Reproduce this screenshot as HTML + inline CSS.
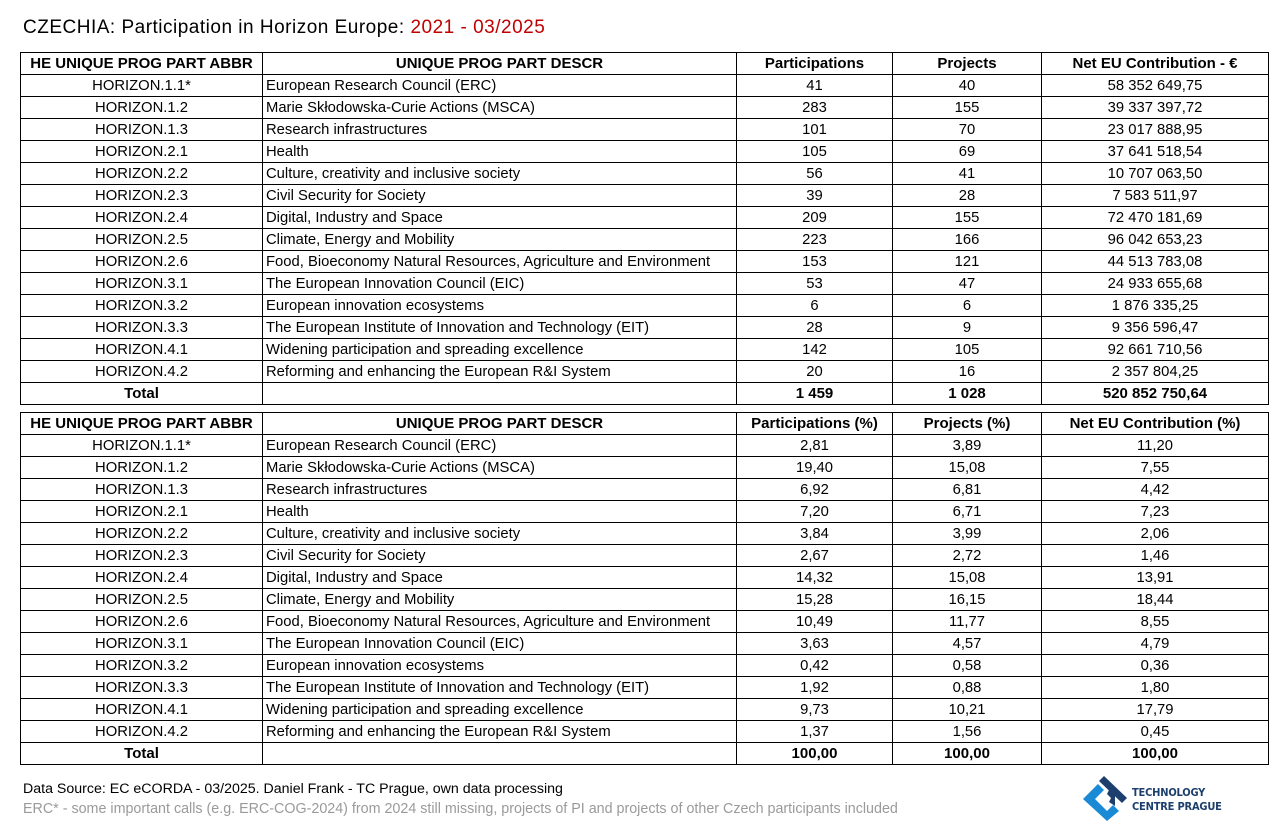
<!DOCTYPE html>
<html><head><meta charset="utf-8">
<style>
html,body{margin:0;padding:0;background:#fff;}
body{width:1287px;height:834px;position:relative;overflow:hidden;font-family:"Liberation Sans",Arial,sans-serif;color:#000;}
.title{position:absolute;left:23px;top:16px;font-size:19px;letter-spacing:0.5px;line-height:24px;white-space:nowrap;}
.title .r{color:#c00000;}
table{position:absolute;left:20px;border-collapse:collapse;table-layout:fixed;width:1248px;}
td{border:1px solid #000;height:21px;padding:0 3px;font-size:14.8px;line-height:20px;text-align:center;white-space:nowrap;overflow:hidden;}
td.d{text-align:left;padding-left:3px;}
tr.h td,tr.t td{font-weight:bold;font-size:15px;}
.f1{position:absolute;left:23px;top:780px;font-size:14.2px;line-height:18px;white-space:nowrap;}
.f2{position:absolute;left:23px;top:800px;font-size:14.3px;line-height:18px;color:#9a9a9a;white-space:nowrap;}
.logo{position:absolute;left:1078px;top:772px;}
.lt{position:absolute;left:1132px;font-family:"DejaVu Sans Condensed","Liberation Sans",sans-serif;font-weight:bold;font-size:11px;letter-spacing:-0.2px;color:#1d3f6e;line-height:12px;white-space:nowrap;}
</style></head><body>
<div class="title">CZECHIA: Participation in Horizon Europe: <span class="r">2021 - 03/2025</span></div>

<table style="top:52px">
<colgroup><col style="width:242px"><col style="width:474px"><col style="width:156px"><col style="width:149px"><col style="width:227px"></colgroup>
<tr class="h"><td>HE UNIQUE PROG PART ABBR</td><td>UNIQUE PROG PART DESCR</td><td>Participations</td><td>Projects</td><td>Net EU Contribution - €</td></tr>
<tr><td>HORIZON.1.1*</td><td class="d">European Research Council (ERC)</td><td>41</td><td>40</td><td>58 352 649,75</td></tr>
<tr><td>HORIZON.1.2</td><td class="d">Marie Skłodowska-Curie Actions (MSCA)</td><td>283</td><td>155</td><td>39 337 397,72</td></tr>
<tr><td>HORIZON.1.3</td><td class="d">Research infrastructures</td><td>101</td><td>70</td><td>23 017 888,95</td></tr>
<tr><td>HORIZON.2.1</td><td class="d">Health</td><td>105</td><td>69</td><td>37 641 518,54</td></tr>
<tr><td>HORIZON.2.2</td><td class="d">Culture, creativity and inclusive society</td><td>56</td><td>41</td><td>10 707 063,50</td></tr>
<tr><td>HORIZON.2.3</td><td class="d">Civil Security for Society</td><td>39</td><td>28</td><td>7 583 511,97</td></tr>
<tr><td>HORIZON.2.4</td><td class="d">Digital, Industry and Space</td><td>209</td><td>155</td><td>72 470 181,69</td></tr>
<tr><td>HORIZON.2.5</td><td class="d">Climate, Energy and Mobility</td><td>223</td><td>166</td><td>96 042 653,23</td></tr>
<tr><td>HORIZON.2.6</td><td class="d">Food, Bioeconomy Natural Resources, Agriculture and Environment</td><td>153</td><td>121</td><td>44 513 783,08</td></tr>
<tr><td>HORIZON.3.1</td><td class="d">The European Innovation Council (EIC)</td><td>53</td><td>47</td><td>24 933 655,68</td></tr>
<tr><td>HORIZON.3.2</td><td class="d">European innovation ecosystems</td><td>6</td><td>6</td><td>1 876 335,25</td></tr>
<tr><td>HORIZON.3.3</td><td class="d">The European Institute of Innovation and Technology (EIT)</td><td>28</td><td>9</td><td>9 356 596,47</td></tr>
<tr><td>HORIZON.4.1</td><td class="d">Widening participation and spreading excellence</td><td>142</td><td>105</td><td>92 661 710,56</td></tr>
<tr><td>HORIZON.4.2</td><td class="d">Reforming and enhancing the European R&amp;I System</td><td>20</td><td>16</td><td>2 357 804,25</td></tr>
<tr class="t"><td>Total</td><td></td><td>1 459</td><td>1 028</td><td>520 852 750,64</td></tr>
</table>

<table style="top:412px">
<colgroup><col style="width:242px"><col style="width:474px"><col style="width:156px"><col style="width:149px"><col style="width:227px"></colgroup>
<tr class="h"><td>HE UNIQUE PROG PART ABBR</td><td>UNIQUE PROG PART DESCR</td><td>Participations (%)</td><td>Projects (%)</td><td>Net EU Contribution (%)</td></tr>
<tr><td>HORIZON.1.1*</td><td class="d">European Research Council (ERC)</td><td>2,81</td><td>3,89</td><td>11,20</td></tr>
<tr><td>HORIZON.1.2</td><td class="d">Marie Skłodowska-Curie Actions (MSCA)</td><td>19,40</td><td>15,08</td><td>7,55</td></tr>
<tr><td>HORIZON.1.3</td><td class="d">Research infrastructures</td><td>6,92</td><td>6,81</td><td>4,42</td></tr>
<tr><td>HORIZON.2.1</td><td class="d">Health</td><td>7,20</td><td>6,71</td><td>7,23</td></tr>
<tr><td>HORIZON.2.2</td><td class="d">Culture, creativity and inclusive society</td><td>3,84</td><td>3,99</td><td>2,06</td></tr>
<tr><td>HORIZON.2.3</td><td class="d">Civil Security for Society</td><td>2,67</td><td>2,72</td><td>1,46</td></tr>
<tr><td>HORIZON.2.4</td><td class="d">Digital, Industry and Space</td><td>14,32</td><td>15,08</td><td>13,91</td></tr>
<tr><td>HORIZON.2.5</td><td class="d">Climate, Energy and Mobility</td><td>15,28</td><td>16,15</td><td>18,44</td></tr>
<tr><td>HORIZON.2.6</td><td class="d">Food, Bioeconomy Natural Resources, Agriculture and Environment</td><td>10,49</td><td>11,77</td><td>8,55</td></tr>
<tr><td>HORIZON.3.1</td><td class="d">The European Innovation Council (EIC)</td><td>3,63</td><td>4,57</td><td>4,79</td></tr>
<tr><td>HORIZON.3.2</td><td class="d">European innovation ecosystems</td><td>0,42</td><td>0,58</td><td>0,36</td></tr>
<tr><td>HORIZON.3.3</td><td class="d">The European Institute of Innovation and Technology (EIT)</td><td>1,92</td><td>0,88</td><td>1,80</td></tr>
<tr><td>HORIZON.4.1</td><td class="d">Widening participation and spreading excellence</td><td>9,73</td><td>10,21</td><td>17,79</td></tr>
<tr><td>HORIZON.4.2</td><td class="d">Reforming and enhancing the European R&amp;I System</td><td>1,37</td><td>1,56</td><td>0,45</td></tr>
<tr class="t"><td>Total</td><td></td><td>100,00</td><td>100,00</td><td>100,00</td></tr>
</table>

<div class="f1">Data Source: EC eCORDA - 03/2025. Daniel Frank - TC Prague, own data processing</div>
<div class="f2">ERC* - some important calls (e.g. ERC-COG-2024) from 2024 still missing, projects of PI and projects of other Czech participants included</div>

<svg class="logo" width="55" height="55" viewBox="0 0 55 55">
  <polygon points="5,27 20,12 26,18 17,27 29,39 35,33 41,39 29,49" fill="#1a8ad4"/>
  <polygon points="21,9 26,4 49,26 44,31" fill="#1d3f6e"/>
  <polygon points="31,18 37,24 37,34 31,30 33,26 29,22" fill="#1d3f6e"/>
</svg>
<div class="lt" style="top:787px">TECHNOLOGY</div>
<div class="lt" style="top:801px">CENTRE PRAGUE</div>
</body></html>
